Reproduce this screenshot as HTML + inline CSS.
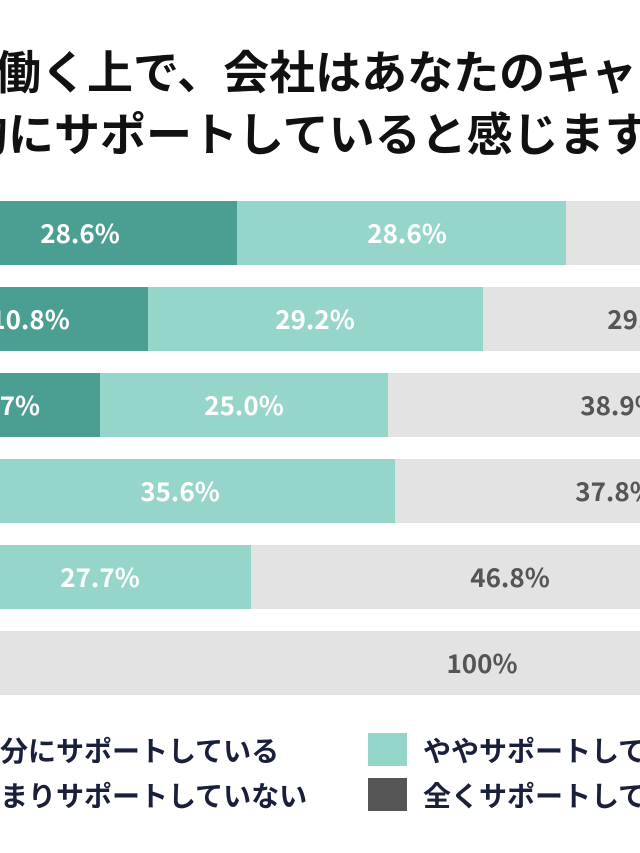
<!DOCTYPE html>
<html><head><meta charset="utf-8"><style>
body{margin:0;width:640px;height:853px;overflow:hidden;background:#fff;position:relative;font-family:"Liberation Sans","Noto Sans CJK JP",sans-serif;font-weight:bold}
.t{position:absolute;white-space:nowrap;font-size:46px;color:#111;line-height:50px;font-family:"Noto Sans CJK JP",sans-serif}
.b{position:absolute;height:64px}
.d{background:#4a9e92}.l{background:#96d5c9}.g{background:#e3e3e3}
.v{position:absolute;font-size:26px;line-height:64px;color:#fff;white-space:nowrap;transform:translateX(-50%);font-family:"Noto Sans CJK JP",sans-serif}
.gv{color:#555}
.lg{position:absolute;font-size:28px;color:#1a1f3a;white-space:nowrap;line-height:40px;font-family:"Noto Sans CJK JP",sans-serif}
.sw{position:absolute;width:39px;height:33px}
</style></head><body>
<div class="t" style="left:-5px;top:45px">働く上で、会社はあなたのキャリア</div>
<div class="t" style="left:-38px;top:107px">的にサポートしていると感じますか</div>

<div class="b d" style="left:0;width:237px;top:201px"></div><div class="b l" style="left:237px;width:329px;top:201px"></div><div class="b g" style="left:566px;width:74px;top:201px"></div>
<div class="v" style="left:80px;top:201px">28.6%</div><div class="v" style="left:407px;top:201px">28.6%</div>

<div class="b d" style="left:0;width:148px;top:287px"></div><div class="b l" style="left:148px;width:335px;top:287px"></div><div class="b g" style="left:483px;width:157px;top:287px"></div>
<div class="v" style="left:30px;top:287px">10.8%</div><div class="v" style="left:315px;top:287px">29.2%</div><div class="v gv" style="left:647px;top:287px">29.5%</div>

<div class="b d" style="left:0;width:100px;top:373px"></div><div class="b l" style="left:100px;width:288px;top:373px"></div><div class="b g" style="left:388px;width:252px;top:373px"></div>
<div class="v" style="left:8px;top:373px">5.7%</div><div class="v" style="left:244px;top:373px">25.0%</div><div class="v gv" style="left:620px;top:373px">38.9%</div>

<div class="b l" style="left:0;width:395px;top:459px"></div><div class="b g" style="left:395px;width:245px;top:459px"></div>
<div class="v" style="left:180px;top:459px">35.6%</div><div class="v gv" style="left:615px;top:459px">37.8%</div>

<div class="b l" style="left:0;width:251px;top:545px"></div><div class="b g" style="left:251px;width:389px;top:545px"></div>
<div class="v" style="left:100px;top:545px">27.7%</div><div class="v gv" style="left:510px;top:545px">46.8%</div>

<div class="b g" style="left:0;width:640px;top:631px"></div>
<div class="v gv" style="left:482px;top:631px">100%</div>

<div class="lg" style="left:-28px;top:730px">十分にサポートしている</div>
<div class="lg" style="left:-28px;top:775px">あまりサポートしていない</div>
<div class="sw" style="left:368px;top:733px;background:#96d5c9"></div>
<div class="sw" style="left:368px;top:778px;background:#555"></div>
<div class="lg" style="left:423px;top:730px">ややサポートしている</div>
<div class="lg" style="left:423px;top:775px">全くサポートしていない</div>
</body></html>
